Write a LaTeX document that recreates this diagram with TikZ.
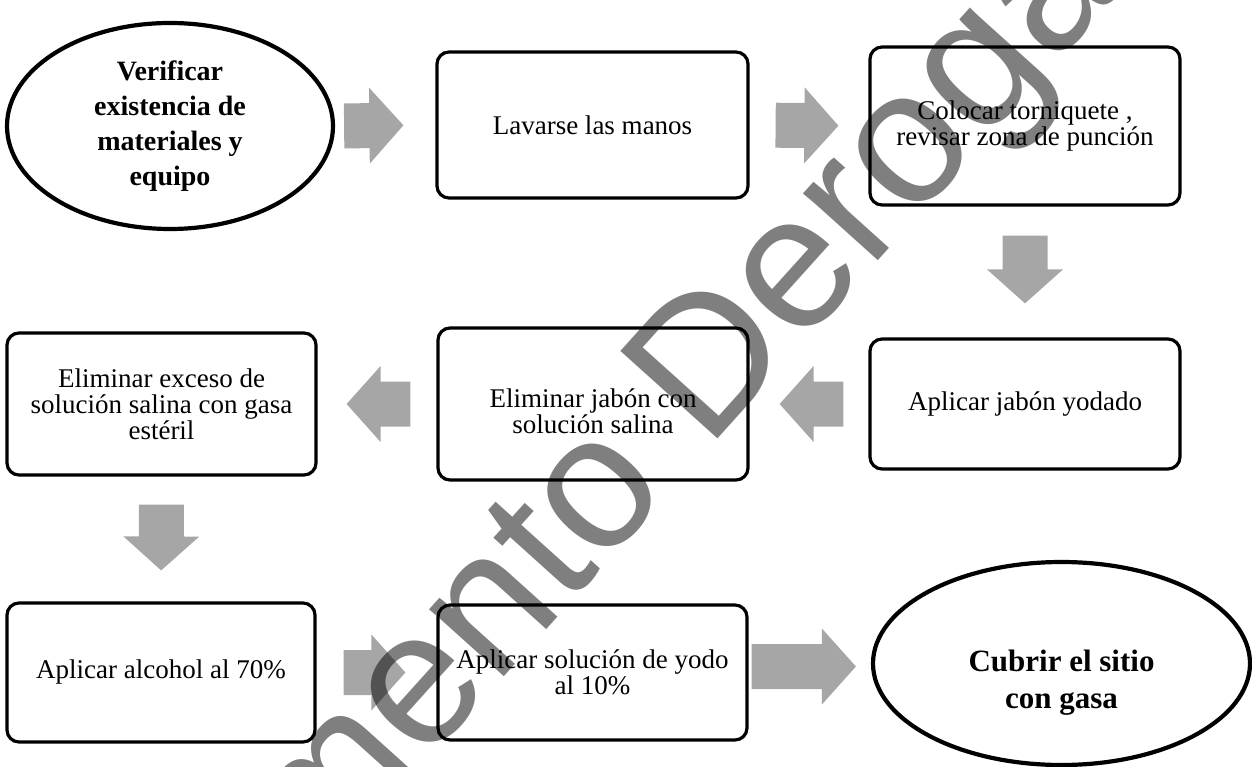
\documentclass[tikz,border=0pt]{standalone}
\usepackage{fontspec}
\setmainfont{Liberation Serif}
\newfontfamily\wmfont{Liberation Sans}
\usetikzlibrary{shapes.geometric,calc}
\definecolor{arrgray}{RGB}{166,166,166}
\newcommand\boxfnt{\fontsize{27}{26}\selectfont}
\newcommand\ellfnt{\fontsize{28}{35}\selectfont\bfseries}
\newcommand\lastfnt{\fontsize{31}{37}\selectfont\bfseries}
% block arrow from anchor #1 towards anchor #2, shortened by #3 at start and #4 at end
\newcommand\blockarrow[4]{%
  \coordinate (bS) at ($(#1)!#3!(#2)$);
  \coordinate (bT) at ($(#2)!#4!(#1)$);
  \coordinate (bH) at ($(bT)!34pt!(bS)$);
  \fill[arrgray] ($(bS)!22.5pt!90:(bT)$) -- ($(bH)!22.5pt!90:(bT)$) -- ($(bH)!38pt!90:(bT)$) -- (bT)
     -- ($(bH)!38pt!-90:(bT)$) -- ($(bH)!22.5pt!-90:(bT)$) -- ($(bS)!22.5pt!-90:(bT)$) -- cycle;}
\begin{document}
\begin{tikzpicture}[x=1pt,y=-1pt,
  stepbox/.style={draw, line width=3.2pt, rounded corners=12pt, inner sep=0pt, align=center, font=\boxfnt},
  ell/.style={ellipse, draw, line width=4.2pt, inner sep=0pt, align=center},
  wm/.style={font=\wmfont\fontsize{190}{190}\selectfont, text=black, opacity=0.5, text opacity=0.5, inner sep=0pt}]
\useasboundingbox (0,0) rectangle (1252,767);
\clip (0,0) rectangle (1252,767);
% nodes
\node[ell, minimum width=326pt, minimum height=206pt, font=\ellfnt] (v) at (170,126) {Verificar\\existencia de\\materiales y\\equipo};
\node[stepbox, minimum width=311pt, minimum height=146pt] (lav) at (592.5,125) {Lavarse las manos};
\node[stepbox, minimum width=310pt, minimum height=158pt] (col) at (1025,126) {Colocar torniquete ,\\revisar zona de punción};
\node[stepbox, minimum width=310pt, minimum height=130pt] (apj) at (1025,404) {Aplicar jabón yodado};
\node[stepbox, minimum width=310pt, minimum height=152pt] (elj) at (593,404) {\raisebox{-11pt}[\height][\depth]{\begin{tabular}{@{}c@{}}Eliminar jabón con\\solución salina\end{tabular}}};
\node[stepbox, minimum width=309pt, minimum height=142pt] (ele) at (161.5,404) {Eliminar exceso de\\solución salina con gasa\\estéril};
\node[stepbox, minimum width=308pt, minimum height=139pt] (alc) at (161,672.5) {Aplicar alcohol al 70\%};
\node[stepbox, minimum width=309pt, minimum height=135pt] (yod) at (592.5,672.5) {Aplicar solución de yodo\\al 10\%};
\node[ell, minimum width=377pt, minimum height=203pt, font=\lastfnt] (cub) at (1061.5,663.5) {\raisebox{-19pt}[\height][\depth]{\begin{tabular}{@{}c@{}}Cubrir el sitio\\con gasa\end{tabular}}};
% block arrows
\blockarrow{v.east}{lav.west}{9pt}{32pt}
\blockarrow{lav.east}{col.west}{26pt}{30pt}
\blockarrow{col.south}{apj.north}{29pt}{34pt}
\blockarrow{apj.west}{elj.east}{25pt}{30pt}
\blockarrow{elj.west}{ele.east}{26pt}{29pt}
\blockarrow{ele.south}{alc.north}{28pt}{31pt}
\blockarrow{alc.east}{yod.west}{27pt}{31pt}
\coordinate (yodR) at ($(yod.east)+(0,-6)$);
\coordinate (cubL) at ($(cub.west)+(0,3)$);
\blockarrow{yodR}{cubL}{3pt}{15pt}
% watermark
\node[wm, rotate=48, anchor=base] (mark) at (644,521) {Documento Derogado};
\end{tikzpicture}
\end{document}
